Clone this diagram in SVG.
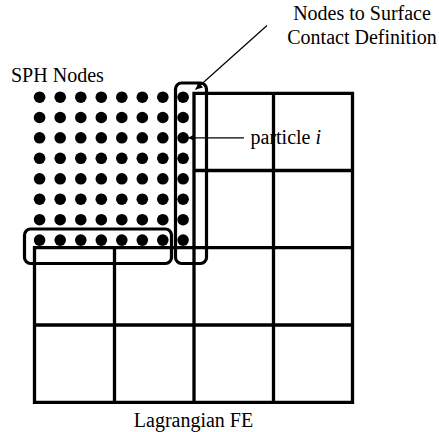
<svg xmlns="http://www.w3.org/2000/svg" width="439" height="432" viewBox="0 0 439 432">
<style>
.grid{fill:none;stroke:#000;stroke-width:3.3;stroke-linecap:square}
.box{fill:none;stroke:#000;stroke-width:3.2}
.lead{fill:none;stroke:#000;stroke-width:1.2}
.t{font-family:'Liberation Serif','DejaVu Serif','Times New Roman',serif;font-size:20px;fill:#000}
.dot{fill:#000}
</style>
<defs>
<marker id="ah" viewBox="0 0 10 10" refX="10" refY="5" markerWidth="8" markerHeight="7" markerUnits="userSpaceOnUse" orient="auto">
<path d="M0,0 L10,5 L0,10 z" fill="#000"/>
</marker>
<g id="dotrow">
<circle class="dot" cx="39.6" cy="0" r="5.8"/>
<circle class="dot" cx="60.2" cy="0" r="5.8"/>
<circle class="dot" cx="80.8" cy="0" r="5.8"/>
<circle class="dot" cx="101.3" cy="0" r="5.8"/>
<circle class="dot" cx="121.8" cy="0" r="5.8"/>
<circle class="dot" cx="142.3" cy="0" r="5.8"/>
<circle class="dot" cx="162.8" cy="0" r="5.8"/>
<circle class="dot" cx="183.1" cy="0" r="5.8"/>
</g>
</defs>
<rect width="439" height="432" fill="#fff"/>
<g id="fe-mesh">
<path class="grid" d="M194,93.3 H352.5 M194,170.5 H352.5 M34.5,247.7 H352.5 M34.5,325 H352.5 M34.5,402.3 H352.5 M34.5,247.7 V402.3 M114.5,247.7 V402.3 M194,93.3 V402.3 M273.5,93.3 V402.3 M352.5,93.3 V402.3"/>
</g>
<g id="sph-nodes">
<use href="#dotrow" y="97.2"/>
<use href="#dotrow" y="117.5"/>
<use href="#dotrow" y="137.8"/>
<use href="#dotrow" y="158.3"/>
<use href="#dotrow" y="178.8"/>
<use href="#dotrow" y="199.2"/>
<use href="#dotrow" y="219.7"/>
<use href="#dotrow" y="240.1"/>
</g>
<g id="contact-boxes">
<rect class="box" x="175.5" y="83" width="31" height="180.5" rx="6"/>
<rect class="box" x="24.5" y="229" width="147" height="34.5" rx="6"/>
</g>
<g id="connectors">
<line class="lead" x1="267" y1="25.5" x2="195.5" y2="89.5" marker-end="url(#ah)"/>
<line class="lead" x1="244" y1="137.8" x2="188" y2="137.8" marker-end="url(#ah)"/>
</g>
<g id="labels">
<text class="t" x="11" y="82">SPH Nodes</text>
<text class="t" x="362" y="20" text-anchor="middle">Nodes to Surface</text>
<text class="t" x="362" y="43.5" text-anchor="middle">Contact Definition</text>
<text class="t" x="250.5" y="144">particle <tspan font-style="italic">i</tspan></text>
<text class="t" x="193.5" y="426.5" text-anchor="middle">Lagrangian FE</text>
</g>
</svg>
